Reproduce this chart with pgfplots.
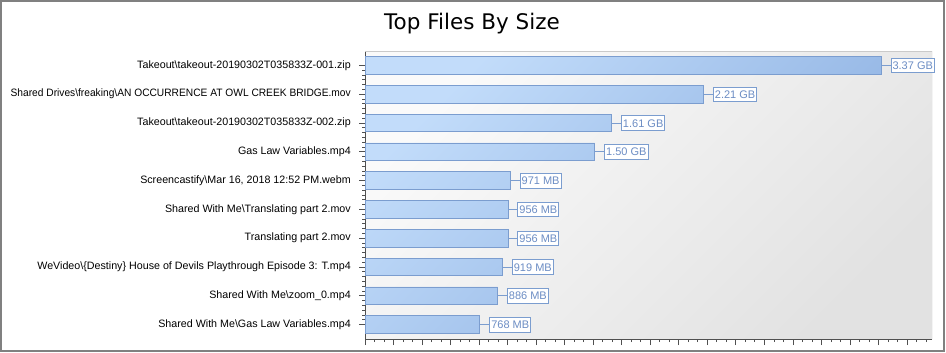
\documentclass[border=0pt]{standalone}
\usepackage{fontspec}
\setmainfont{Liberation Sans}
\newfontfamily\titlefont{DejaVu Sans}
\usepackage{pgfplots}
\pgfplotsset{compat=1.18}
\usepackage{pgfplotstable}
\definecolor{framegray}{HTML}{808080}
\definecolor{barlight}{HTML}{C2DCFA}
\definecolor{bardark}{HTML}{8AAEE0}
\definecolor{baredge}{HTML}{7B9DCF}
\definecolor{labtext}{HTML}{6C8DC4}
\definecolor{bgtop}{HTML}{FAFAFA}
\definecolor{bgbot}{HTML}{E2E2E2}
\definecolor{axisdark}{HTML}{505050}
\definecolor{plotborder}{HTML}{CACACA}

% sizes in millions of bytes (from the GiB / MiB labels)
\pgfplotstableread[col sep=comma]{
row,mb,label
0,3618.51,3.37 GB
1,2372.97,2.21 GB
2,1728.72,1.61 GB
3,1610.61,1.50 GB
4,1018.17,971 MB
5,1002.44,956 MB
6,1002.44,956 MB
7,963.64,919 MB
8,929.04,886 MB
9,805.31,768 MB
}\sizes

\begin{document}
\begin{tikzpicture}[x=1bp,y=1bp]
\path[use as bounding box] (0,0) rectangle (946,352);
\fill[white] (0,0) rectangle (946,352);
\node[font=\titlefont\fontsize{21.5bp}{25bp}\selectfont, anchor=base] at (472,323) {Top Files By Size};
\begin{axis}[
  at={(365bp,13bp)}, anchor=south west,
  scale only axis, width=567bp, height=288bp,
  xbar, bar width=0.615, bar shift=0pt,
  xmin=0, xmax=3975,
  ymin=-0.5, ymax=9.5, y dir=reverse,
  axis lines*=left,
  axis line style={axisdark, line width=0.8bp, -},
  axis background/.style={top color=bgtop, bottom color=bgbot, shading angle=45},
  xtick distance=200, minor x tick num=2, xticklabels={},
  ytick={0,...,9}, minor y tick num=5,
  yticklabels={
    {Takeout\textbackslash takeout-20190302T035833Z-001.zip},
    {\scalebox{0.954}[1]{Shared Drives\textbackslash freaking\textbackslash AN OCCURRENCE AT OWL CREEK BRIDGE.mov}},
    {Takeout\textbackslash takeout-20190302T035833Z-002.zip},
    {Gas Law Variables.mp4},
    {Screencastify\textbackslash Mar 16, 2018 12:52 PM.webm},
    {Shared With Me\textbackslash Translating part 2.mov},
    {Translating part 2.mov},
    {WeVideo\textbackslash\{Destiny\} House of Devils Playthrough Episode 3: T.mp4},
    {Shared With Me\textbackslash zoom\_0.mp4},
    {Shared With Me\textbackslash Gas Law Variables.mp4}},
  tick align=outside, major tick length=6bp, minor tick length=3bp,
  tick style={axisdark, line width=0.8bp},
  yticklabel style={font=\fontsize{10.7bp}{13bp}\selectfont, inner sep=0pt, xshift=-8bp},
  nodes near coords, point meta=explicit symbolic,
  every node near coord/.append style={anchor=west, xshift=9.5bp, draw=baredge, fill=white,
    text=labtext, font=\fontsize{11bp}{13bp}\selectfont, line width=0.8bp,
    inner xsep=1.5bp, inner ysep=3.3bp, text height=8bp, text depth=0bp},
]
\addplot[draw=baredge, line width=0.8bp, top color=barlight, bottom color=bardark, shading angle=45,
  error bars/.cd, x dir=plus, x fixed=66.6, error mark=none,
  error bar style={draw=baredge, line width=0.8bp}]
  table[x=mb, y=row, meta=label] {\sizes};
\draw[plotborder, line width=0.8bp] (axis description cs:0,1) -- (axis description cs:1,1) -- (axis description cs:1,0);
\end{axis}
\draw[framegray, line width=2bp] (1,1) rectangle (944,351);
\end{tikzpicture}
\end{document}
